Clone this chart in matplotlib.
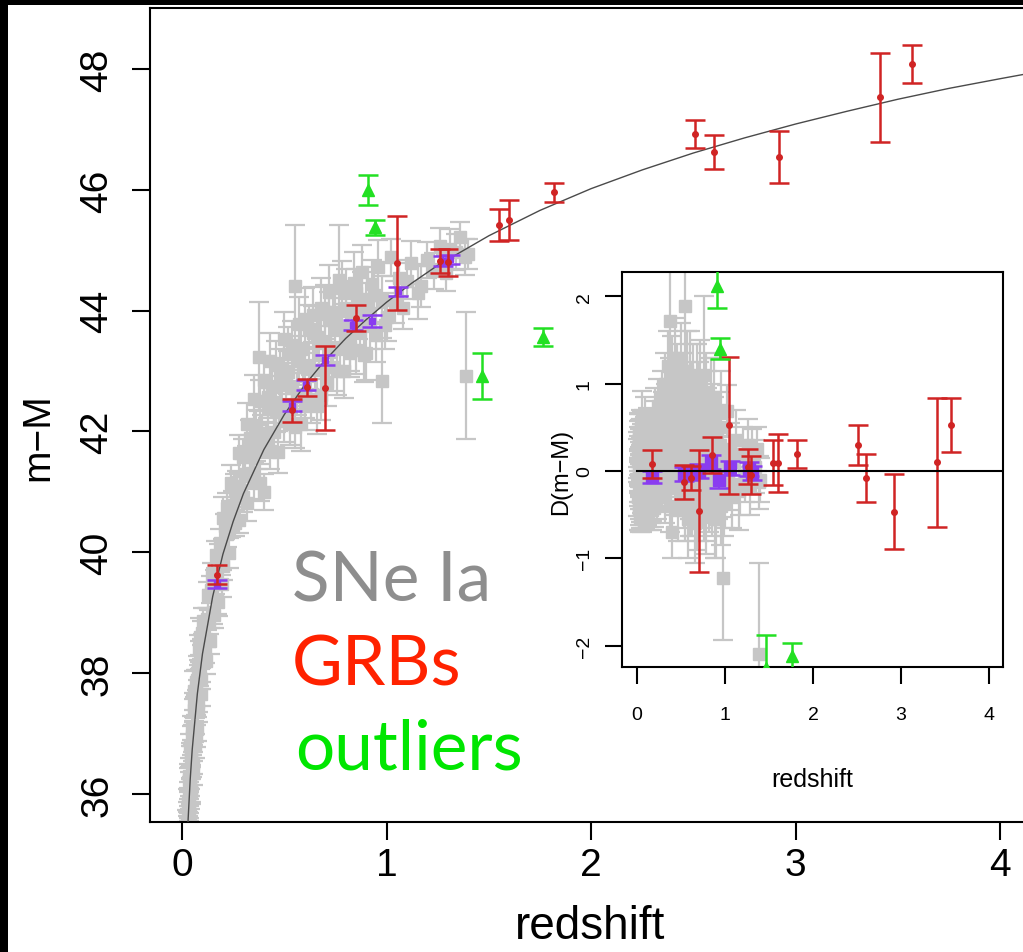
import numpy as np
import matplotlib
matplotlib.use('Agg')
import matplotlib.pyplot as plt
from matplotlib import font_manager
from matplotlib.patches import Rectangle

# ---------------- data ----------------
# model curve (distance modulus)
curve_z = [0.01, 0.015, 0.02, 0.03, 0.04, 0.05, 0.075, 0.1, 0.15, 0.2, 0.25, 0.3, 0.4, 0.5,
           0.6, 0.7, 0.8, 0.9, 1.0, 1.125, 1.25, 1.5, 1.75, 2.0, 2.25, 2.5, 2.75, 3.0,
           3.25, 3.5, 3.75, 4.0, 4.5]
curve_mu = [33.18, 34.06, 34.70, 35.59, 36.24, 36.74, 37.66, 38.32, 39.27, 39.97, 40.51, 40.97,
            41.70, 42.28, 42.77, 43.18, 43.54, 43.85, 44.14, 44.46, 44.75, 45.24, 45.66, 46.02,
            46.33, 46.61, 46.86, 47.09, 47.30, 47.50, 47.68, 47.84, 48.15]

# SNe Ia: redshift, residual D(m-M), error
sn_z = [0.015, 0.016, 0.017, 0.018, 0.019, 0.020, 0.021, 0.022, 0.023, 0.024, 0.025, 0.026,
        0.027, 0.028, 0.029, 0.030, 0.031, 0.032, 0.033, 0.034, 0.035, 0.036, 0.038, 0.040,
        0.042, 0.044, 0.046, 0.048, 0.050, 0.052, 0.055, 0.058, 0.060, 0.061, 0.064, 0.067,
        0.070, 0.074, 0.078, 0.082, 0.086, 0.090, 0.090, 0.095, 0.100,
        0.11, 0.12, 0.13, 0.14, 0.15, 0.16, 0.17, 0.18, 0.19, 0.20, 0.20, 0.21, 0.22, 0.23,
        0.24, 0.25, 0.26, 0.27, 0.28, 0.29, 0.30,
        0.31, 0.32, 0.33, 0.34, 0.35, 0.36, 0.37, 0.375, 0.38, 0.39, 0.40, 0.41, 0.42, 0.43,
        0.44, 0.45, 0.46, 0.47, 0.48, 0.49, 0.50, 0.51, 0.52, 0.53, 0.54, 0.55, 0.56, 0.57,
        0.58, 0.59, 0.60, 0.60,
        0.62, 0.63, 0.64, 0.65, 0.66, 0.67, 0.68, 0.69, 0.70, 0.71, 0.72, 0.73, 0.74, 0.75,
        0.765, 0.77, 0.78, 0.79, 0.80, 0.81, 0.82, 0.83, 0.84, 0.85, 0.86, 0.87, 0.88, 0.89,
        0.90, 0.92, 0.94, 0.95, 0.976, 0.98, 1.00,
        1.02, 1.04, 1.06, 1.08, 1.10, 1.12, 1.155, 1.17, 1.20, 1.23, 1.26, 1.29, 1.31, 1.34,
        1.36, 1.385, 1.39, 1.40,
        0.22, 0.24, 0.26, 0.28, 0.30, 0.32, 0.33, 0.35, 0.36, 0.38, 0.40, 0.42, 0.43, 0.45,
        0.46, 0.48, 0.50, 0.52, 0.54, 0.55, 0.57, 0.58, 0.60, 0.62, 0.64, 0.66, 0.68, 0.70,
        0.72, 0.74, 0.76, 0.78, 0.80, 0.82, 0.85, 0.88, 0.90, 0.93, 0.96, 0.99,
        0.033, 0.037, 0.041, 0.045, 0.049, 0.053, 0.057, 0.063, 0.068, 0.072, 0.076, 0.080,
        0.085, 0.092, 0.097, 0.105, 0.115, 0.125, 0.135, 0.145, 0.155, 0.165, 0.175, 0.185,
        0.195]
sn_dmu = [0.12, -0.30, 0.25, -0.10, 0.35, -0.42, 0.05, 0.40, -0.20, 0.18, -0.45, 0.30,
          -0.05, 0.45, -0.35, 0.10, -0.15, 0.28, -0.40, 0.02, 0.38, -0.25, 0.15, -0.08,
          0.32, -0.38, 0.08, -0.18, 0.22, -0.30, 0.05, 0.36, 0.60, -0.12, 0.18, -0.40,
          0.00, 0.26, -0.22, 0.12, -0.05, 0.30, 0.55, -0.28, 0.08,
          -0.15, 0.20, -0.05, 0.30, -0.25, 0.10, -0.35, 0.25, 0.00, -0.20, 0.60, 0.35, 0.12, -0.30,
          0.05, 0.28, -0.12, 0.40, -0.25, 0.15, -0.05,
          0.25, -0.30, 0.45, 0.05, -0.15, 0.60, 0.20, 1.72, -0.40, 0.35, -0.70, 0.10, 0.55, -0.20,
          0.80, 0.00, 0.30, -0.45, 0.65, 0.15, -0.10, 0.45, 0.90, -0.30, 0.25, 1.89, 0.05, 0.55,
          -0.55, 0.35, 1.10, -0.15,
          0.20, -0.35, 0.70, 0.05, -0.60, 0.40, 0.95, -0.10, 0.30, -0.40, 0.60, 0.10, -0.25, 0.45,
          1.10, -0.05, 0.25, -0.50, 0.50, 0.05, -0.20, 0.35, 0.80, -0.35, 0.15, -0.10, 0.40, -0.55,
          0.20, -0.15, 0.30, -0.40, -1.23, 0.10, -0.25,
          0.69, -0.10, 0.25, -0.30, 0.10, 0.35, -0.23, -0.15, 0.20, -0.05, 0.30, -0.20, 0.15, 0.05,
          0.25, -0.13, -2.10, -0.10,
          0.55, 0.75, 0.45, 0.85, 0.60, 1.00, 0.70, 1.20, 0.40, 0.95, 1.15, 0.75, 1.30, 0.50,
          1.05, 0.85, 1.25, 0.60, 0.95, -0.45, 1.15, 0.70, -0.35, 0.85, 1.00, 0.55, -0.50, 0.80,
          1.05, 0.65, -0.40, 0.90, 0.75, -0.30, 0.60, 0.85, -0.55, 0.50, 0.70, -0.35,
          0.45, -0.50, 0.50, -0.45, 0.40, -0.50, 0.48, -0.42, 0.45, -0.48, 0.40, -0.40,
          0.50, -0.45, 0.42, 0.45, -0.40, 0.50, -0.45, 0.42, -0.38, 0.48, -0.45, 0.40,
          -0.42]
sn_err = [0.25, 0.22, 0.20, 0.25, 0.22, 0.25, 0.20, 0.25, 0.20, 0.22, 0.22, 0.20,
          0.20, 0.22, 0.20, 0.18, 0.20, 0.20, 0.22, 0.18, 0.20, 0.18, 0.18, 0.20,
          0.18, 0.20, 0.18, 0.18, 0.17, 0.18, 0.17, 0.18, 0.32, 0.17, 0.17, 0.18,
          0.17, 0.17, 0.17, 0.17, 0.16, 0.17, 0.30, 0.17, 0.16,
          0.20, 0.18, 0.20, 0.22, 0.20, 0.20, 0.22, 0.20, 0.20, 0.22, 0.35, 0.20, 0.22, 0.25,
          0.20, 0.22, 0.22, 0.25, 0.22, 0.22, 0.25,
          0.25, 0.30, 0.30, 0.25, 0.30, 0.35, 0.30, 0.90, 0.30, 0.30, 0.30, 0.30, 0.35, 0.30,
          0.40, 0.30, 0.35, 0.35, 0.40, 0.30, 0.35, 0.35, 0.45, 0.35, 0.35, 1.00, 0.35, 0.40,
          0.45, 0.40, 0.50, 0.40,
          0.35, 0.40, 0.45, 0.35, 0.45, 0.40, 0.50, 0.35, 0.40, 0.40, 0.45, 0.35, 0.40, 0.40,
          0.90, 0.35, 0.40, 0.45, 0.45, 0.35, 0.40, 0.40, 0.50, 0.40, 0.35, 0.40, 0.45, 0.45,
          0.40, 0.40, 0.45, 0.45, 0.70, 0.40, 0.40,
          0.30, 0.35, 0.30, 0.35, 0.30, 0.35, 0.44, 0.35, 0.30, 0.30, 0.30, 0.30, 0.33, 0.30,
          0.25, 0.30, 1.05, 0.25,
          0.25, 0.30, 0.25, 0.30, 0.30, 0.35, 0.30, 0.40, 0.30, 0.35, 0.40, 0.35, 0.45, 0.35,
          0.40, 0.35, 0.45, 0.35, 0.40, 0.35, 0.45, 0.40, 0.40, 0.40, 0.45, 0.40, 0.40, 0.45,
          0.45, 0.40, 0.40, 0.45, 0.40, 0.40, 0.40, 0.45, 0.45, 0.40, 0.45, 0.40,
          0.20, 0.20, 0.20, 0.20, 0.20, 0.20, 0.20, 0.20, 0.20, 0.20, 0.20, 0.20,
          0.20, 0.20, 0.20, 0.22, 0.22, 0.22, 0.22, 0.22, 0.22, 0.22, 0.22, 0.22,
          0.22]

# binned SNe (purple)
bin_z = [0.17, 0.536, 0.606, 0.70, 0.838, 0.928, 1.058, 1.278, 1.31]
bin_dmu = [-0.07, -0.03, -0.02, 0.00, 0.10, -0.10, 0.03, 0.02, -0.02]
bin_err = [0.07, 0.08, 0.08, 0.08, 0.08, 0.10, 0.08, 0.08, 0.08]

# GRBs (red)
grb_z = [0.17, 0.54, 0.61, 0.70, 0.85, 1.05, 1.26, 1.30, 1.55, 1.60, 1.82, 2.51, 2.60,
         2.92, 3.41, 3.57]
grb_mu = [39.63, 42.35, 42.73, 42.72, 43.88, 44.79, 44.82, 44.80, 45.42, 45.50, 45.96,
          46.92, 46.63, 46.55, 47.53, 48.08]
grb_err = [0.16, 0.19, 0.14, 0.70, 0.21, 0.78, 0.20, 0.22, 0.26, 0.33, 0.16, 0.23, 0.28,
           0.43, 0.74, 0.31]

# outliers (green)
out_z = [0.91, 0.944, 1.466, 1.767]
out_mu = [46.00, 45.38, 42.92, 43.56]
out_err = [0.25, 0.12, 0.38, 0.15]

main_xticks = [0, 1, 2, 3, 4]
main_yticks = [36, 38, 40, 42, 44, 46, 48]
ins_xticks = [0, 1, 2, 3, 4]
ins_yticks = [-2, -1, 0, 1, 2]

# ---------------- style ----------------
GREY = '#c6c6c6'
RED = '#d02424'
GREEN = '#22e022'
PURPLE = '#8a3cf0'
CURVE = '#4a4a4a'

names = {f.name for f in font_manager.fontManager.ttflist}
SANS = 'Liberation Sans' if 'Liberation Sans' in names else 'DejaVu Sans'
HUM = 'Lato' if 'Lato' in names else SANS
plt.rcParams['font.family'] = [SANS, 'DejaVu Sans']

W, H = 1023, 953
fig = plt.figure(figsize=(W / 100, H / 100), dpi=100)
fig.patch.set_facecolor('white')


def box(x0, y0, x1, y1):
    return [x0 / W, 1 - y1 / H, (x1 - x0) / W, (y1 - y0) / H]


# black frame strips
fig.patches.append(Rectangle((0, 0), 8 / W, 1, transform=fig.transFigure,
                             facecolor='black', edgecolor='none', zorder=10))
fig.patches.append(Rectangle((0, 1 - 6 / H), 1, 6 / H, transform=fig.transFigure,
                             facecolor='black', edgecolor='none', zorder=10))

sn_mu = np.interp(sn_z, curve_z, curve_mu) + np.array(sn_dmu)
bin_mu = np.interp(bin_z, curve_z, curve_mu) + np.array(bin_dmu)
grb_d = np.array(grb_mu) - np.interp(grb_z, curve_z, curve_mu)
out_d = np.array(out_mu) - np.interp(out_z, curve_z, curve_mu)


def draw_sets(a, sn_y, bin_y, grb_y, out_y, bin_ms):
    a.errorbar(sn_z, sn_y, yerr=sn_err, fmt='s', ms=8.5, mfc=GREY, mec=GREY,
               ecolor=GREY, elinewidth=1.6, capsize=7, capthick=1.6, zorder=2)
    a.errorbar(bin_z, bin_y, yerr=bin_err, fmt='s', ms=bin_ms, mfc=PURPLE, mec=PURPLE,
               ecolor=PURPLE, elinewidth=1.5, capsize=7, capthick=1.8, zorder=4)
    a.errorbar(grb_z, grb_y, yerr=grb_err, fmt='o', ms=4, mfc=RED, mec=RED,
               ecolor=RED, elinewidth=1.8, capsize=7, capthick=1.8, zorder=5)
    a.errorbar(out_z, out_y, yerr=out_err, fmt='^', ms=9, mfc=GREEN, mec=GREEN,
               ecolor=GREEN, elinewidth=1.8, capsize=7, capthick=1.8, zorder=6)


# ---------------- main axes ----------------
ax = fig.add_axes(box(150, 9, 1123, 823))
ax.set_xlim(-0.1565, 4.6)
ax.set_ylim(35.536, 49.01)
draw_sets(ax, sn_mu, bin_mu, grb_mu, out_mu, 4)
ax.plot(curve_z, curve_mu, color=CURVE, lw=1.0, zorder=3)

for s in ax.spines.values():
    s.set_linewidth(1.5)
ax.set_xticks(main_xticks)
ax.set_yticks(main_yticks)
ax.set_xticklabels([str(v) for v in main_xticks], fontsize=28)
ax.set_yticklabels([str(v) for v in main_yticks], fontsize=28, rotation=90, va='center')
ax.tick_params(direction='out', length=13, width=1.5)
ax.tick_params(axis='x', pad=5)
ax.tick_params(axis='y', pad=12)

fig.text(590 / W, 1 - 927 / H, 'redshift', fontsize=33, ha='center', va='center')
fig.text(38 / W, 1 - 437 / H, 'm\u2212M', fontsize=28, ha='center', va='center', rotation=90)

# legend-like texts
fig.text(292 / W, 1 - 602 / H, 'SNe Ia', fontsize=50, color='#8e8e8e', family=HUM,
         ha='left', va='baseline')
fig.text(292 / W, 1 - 686 / H, 'GRBs', fontsize=50, color='#ff2200', family=HUM,
         ha='left', va='baseline')
fig.text(295 / W, 1 - 770 / H, 'outliers', fontsize=50, color='#00e600', family=HUM,
         ha='left', va='baseline')

# ---------------- inset ----------------
ia = fig.add_axes(box(622, 273, 1003, 668))
ia.set_facecolor('white')
ia.set_xlim(-0.170, 4.159)
ia.set_ylim(-2.245, 2.28)
draw_sets(ia, sn_dmu, bin_dmu, grb_d, out_d, 8)
ia.plot([0, 4.5], [0, 0], color='black', lw=1.5, zorder=7)

for s in ia.spines.values():
    s.set_linewidth(1.5)
ia.set_xticks(ins_xticks)
ia.set_yticks(ins_yticks)
ia.set_xticklabels([str(v) for v in ins_xticks], fontsize=14)
ia.set_yticklabels([str(v).replace('-', '\u2212') for v in ins_yticks], fontsize=14,
                   rotation=90, va='center')
ia.tick_params(direction='out', length=12, width=1.5)
ia.tick_params(axis='x', pad=16)
ia.tick_params(axis='y', pad=9)
fig.text(812 / W, 1 - 780 / H, 'redshift', fontsize=18, ha='center', va='center')
fig.text(561 / W, 1 - 472 / H, 'D(m\u2212M)', fontsize=17, ha='center', va='center',
         rotation=90)

fig.savefig('out.png', dpi=100, facecolor='white')
